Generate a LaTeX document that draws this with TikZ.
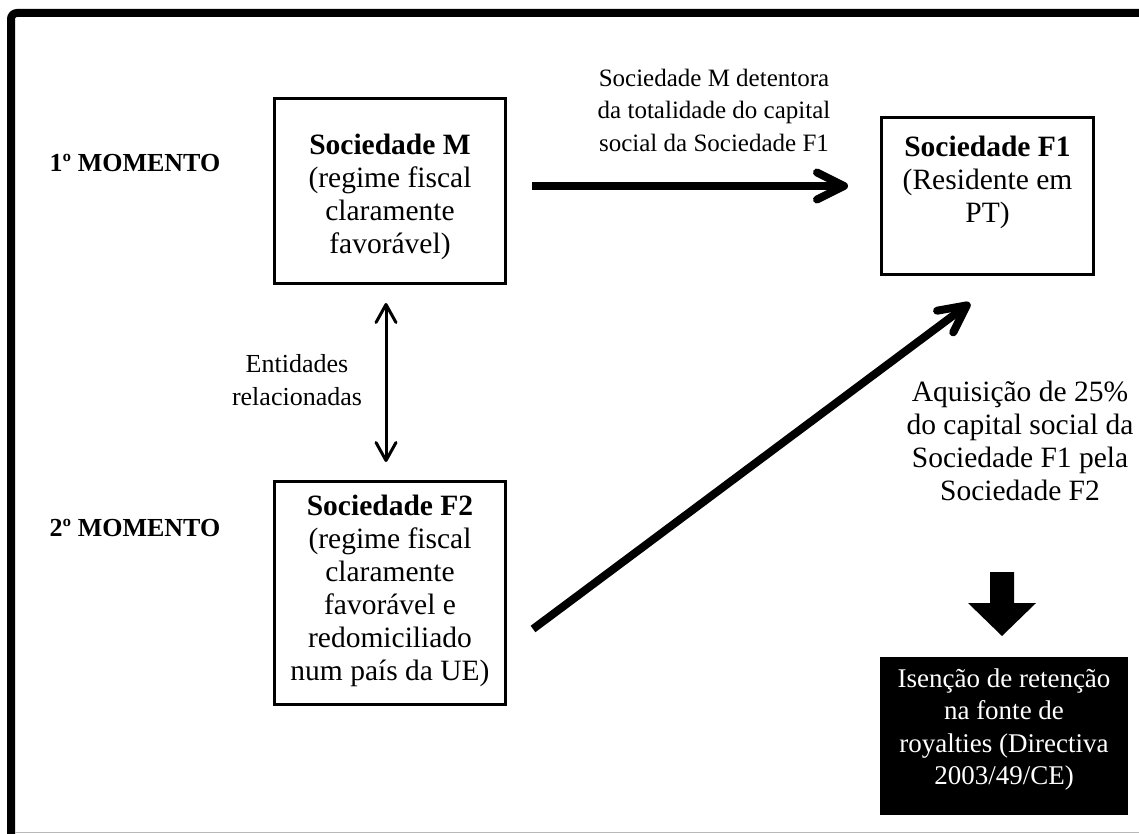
\documentclass[tikz,border=0pt]{standalone}
\usepackage{fontspec}
\setmainfont{Liberation Serif}
\usetikzlibrary{arrows.meta,calc}

% box contents: height, width, first baseline from top, lines
\newcommand\boxbody[4]{\parbox[c][#1][t]{#2}{\centering\rule{0pt}{#3}#4}}

\tikzset{
  box/.style={draw, line width=3pt, inner sep=0pt, font=\fontsize{29.5}{33}\selectfont},
  darkbox/.style={fill=black, text=white, inner sep=0pt, font=\fontsize{27}{32.5}\selectfont},
  stage/.style={font=\bfseries\fontsize{26}{30}\selectfont},
  note/.style={align=center, inner sep=0pt},
  heavy/.style={line width=8pt, -{Straight Barb[length=27pt,width=27pt,round]}},
  link/.style={line width=3pt, {Straight Barb[length=18pt,width=20pt,round]}-{Straight Barb[length=18pt,width=20pt,round]}},
}

\begin{document}
\begin{tikzpicture}[x=1pt,y=-1pt]
\useasboundingbox (0,0) rectangle (1139,834);

% outer frame
\draw[line width=8pt, rounded corners=6pt] (11,834) -- (11,13) -- (1139,13);
\draw[gray!55, line width=1.5pt] (15,832.5) -- (1139,832.5);

% stages
\node[stage] (m1) at (135,163) {1º MOMENTO};
\node[stage] (m2) at (135,528) {2º MOMENTO};

% companies
\node[box] (sm) at (390,191)
  {\boxbody{185pt}{231pt}{56pt}{\textbf{Sociedade M}\\(regime fiscal\\claramente\\favorável)}};
\node[box] (sf1) at (987.5,196)
  {\boxbody{157pt}{212pt}{39.5pt}{\textbf{Sociedade F1}\\(Residente em\\PT)}};
\node[box] (sf2) at (390,593)
  {\boxbody{223pt}{231pt}{33.5pt}{\textbf{Sociedade F2}\\(regime fiscal\\claramente\\favorável e\\redomiciliado\\num país da UE)}};
\node[darkbox] (res) at (1004,736)
  {\boxbody{158pt}{248pt}{30pt}{Isenção de retenção\\na fonte de\\royalties (Directiva\\2003/49/CE)}};

% relation labels
\node[note, font=\fontsize{25}{32.5}\selectfont] (own) at (714,110)
  {Sociedade M detentora\\da totalidade do capital\\social da Sociedade F1};
\node[note, font=\fontsize{26}{33}\selectfont] (rel) at (297,380)
  {Entidades\\relacionadas};
\node[note, font=\fontsize{29.5}{33}\selectfont] (acq) at (1020,440.5)
  {Aquisição de 25\%\\do capital social da\\Sociedade F1 pela\\Sociedade F2};

% connectors
\coordinate (rowA) at (0,186);
\draw[heavy] ($(sm.east |- rowA)+(25,0)$) -- ($(sf1.west |- rowA)+(-32,0)$);
\draw[heavy] ($(sf2.east)+(26,36)$) -- ($(sf1.south west)+(90,27)$);
\draw[link] ($(sm.south)+(-4,18)$) -- ($(sf2.north)+(-4,-18)$);

% result arrow
\fill (990,572) -- (1014,572) -- (1014,603) -- (1036,603) -- (1002,636)
  -- (968,603) -- (990,603) -- cycle;
\end{tikzpicture}
\end{document}
